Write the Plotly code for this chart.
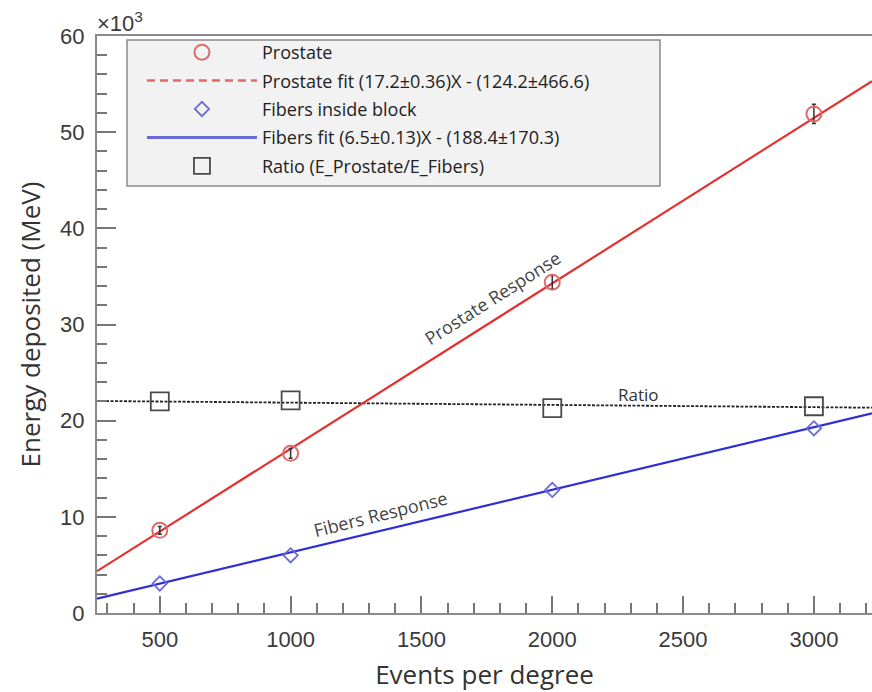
import plotly.graph_objects as go

# ---- data (energies in units of 10^3 MeV) ----
events = [500, 1000, 2000, 3000]
prostate_energy = [8.6, 16.6, 34.4, 51.9]
prostate_err = [0.4, 0.5, 0.7, 1.0]
fibers_energy = [3.07, 6.0, 12.8, 19.2]
ratio_marker_y = [22.0, 22.1, 21.3, 21.5]

prostate_fit = (17.2, -124.2)   # slope (MeV/event), intercept (MeV)
fibers_fit = (6.5, -188.4)
ratio_fit = (22.11, -0.000236)  # drawn guide line (10^3 units)

x_range = [260, 3222]
y_range = [0, 60]

legend_names = [
    "Prostate",
    "Prostate fit (17.2±0.36)X - (124.2±466.6)",
    "Fibers inside block",
    "Fibers fit (6.5±0.13)X - (188.4±170.3)",
    "Ratio (E_Prostate/E_Fibers)",
]

RED = "#e3302f"
RED_LIGHT = "#e06a6a"
BLUE = "#2e2ed6"
BLUE_LIGHT = "#6a6ad8"
GRAY = "#4a4a4a"
TXT_FONT = "Open Sans, Lato"

fit_x = x_range
pro_fit_y = [(prostate_fit[0] * x + prostate_fit[1]) / 1000 for x in fit_x]
fib_fit_y = [(fibers_fit[0] * x + fibers_fit[1]) / 1000 for x in fit_x]
rat_fit_y = [ratio_fit[0] + ratio_fit[1] * x for x in fit_x]

fig = go.Figure()

# plotted lines (not in legend)
fig.add_trace(go.Scatter(x=fit_x, y=rat_fit_y, mode="lines",
                         line=dict(color="#222", width=1.8, dash="3px,1.5px"),
                         showlegend=False, hoverinfo="skip"))
fig.add_trace(go.Scatter(x=fit_x, y=pro_fit_y, mode="lines",
                         line=dict(color=RED, width=2.2),
                         showlegend=False))
fig.add_trace(go.Scatter(x=fit_x, y=fib_fit_y, mode="lines",
                         line=dict(color=BLUE, width=2.2),
                         showlegend=False))

# legend entries + markers
fig.add_trace(go.Scatter(x=events, y=prostate_energy, mode="markers",
                         name=legend_names[0], legendgroup="a",
                         error_y=dict(type="data", array=prostate_err, color="#333",
                                      thickness=1.5, width=2),
                         marker=dict(symbol="circle-open", size=15,
                                     color=RED_LIGHT, line=dict(width=2))))
fig.add_trace(go.Scatter(x=[None], y=[None], mode="lines",
                         name=legend_names[1], legendgroup="b",
                         line=dict(color=RED_LIGHT, width=2.5, dash="8px,5px")))
fig.add_trace(go.Scatter(x=events, y=fibers_energy, mode="markers",
                         name=legend_names[2], legendgroup="c",
                         marker=dict(symbol="diamond-open", size=11,
                                     color=BLUE_LIGHT, line=dict(width=1.8))))
fig.add_trace(go.Scatter(x=[None], y=[None], mode="lines",
                         name=legend_names[3], legendgroup="d",
                         line=dict(color=BLUE_LIGHT, width=3)))
fig.add_trace(go.Scatter(x=events, y=ratio_marker_y, mode="markers",
                         name=legend_names[4], legendgroup="e",
                         marker=dict(symbol="square-open", size=18,
                                     color=GRAY, line=dict(width=1.8))))

tick_font = dict(family="Liberation Sans, Arial", size=22, color="#3a3a3a")

fig.update_layout(
    width=872, height=692,
    margin=dict(l=97, r=0, t=36, b=79),
    paper_bgcolor="white", plot_bgcolor="white",
    showlegend=True,
    legend=dict(x=0.058, y=1.0035, xanchor="left", yanchor="top",
                bgcolor="rgba(0,0,0,0)", borderwidth=0,
                font=dict(family=TXT_FONT, size=18, color="#222"),
                itemwidth=110, tracegroupgap=2, itemsizing="trace"),
    shapes=[dict(type="rect", xref="paper", yref="paper", layer="below",
                 x0=(127 - 97) / 775, x1=(660 - 97) / 775,
                 y0=(613 - 186) / 577, y1=(613 - 40) / 577,
                 line=dict(color="#8a8a8a", width=1.5), fillcolor="#f2f2f2")],
    annotations=[
        dict(text="×10<sup>3</sup>", xref="paper", yref="paper", x=-0.002, y=1.0,
             xanchor="left", yanchor="bottom", showarrow=False, yshift=-2,
             font=dict(family="Liberation Sans, Arial", size=22, color="#3a3a3a")),
        dict(text="Prostate Response", x=1770, y=32.8, showarrow=False,
             textangle=-32.5, font=dict(family=TXT_FONT, size=18, color="#444")),
        dict(text="Fibers Response", x=1342, y=10.3, showarrow=False,
             textangle=-14, font=dict(family=TXT_FONT, size=18, color="#444")),
        dict(text="Ratio", x=2328, y=22.7, showarrow=False,
             font=dict(family=TXT_FONT, size=17, color="#333")),
    ],
)

fig.update_xaxes(range=x_range, showgrid=False, zeroline=False, automargin=False,
                 showline=True, linecolor="#8a8a8a", linewidth=2, mirror=True,
                 tickvals=[500, 1000, 1500, 2000, 2500, 3000],
                 ticks="inside", ticklen=17, tickwidth=1.5, tickcolor="#777",
                 minor=dict(dtick=100, tick0=0, ticks="inside", ticklen=10,
                            tickwidth=1.5, tickcolor="#777"),
                 tickfont=tick_font, ticklabelstandoff=6,
                 title=dict(text="Events per degree",
                            font=dict(family=TXT_FONT, size=26, color="#333"),
                            standoff=14))
fig.update_yaxes(range=y_range, showgrid=False, zeroline=False, automargin=False,
                 showline=True, linecolor="#8a8a8a", linewidth=2, mirror=False,
                 tickvals=[0, 10, 20, 30, 40, 50, 60],
                 ticks="inside", ticklen=19, tickwidth=1.5, tickcolor="#777",
                 minor=dict(dtick=2, tick0=0, ticks="inside", ticklen=10,
                            tickwidth=1.5, tickcolor="#777"),
                 tickfont=tick_font, ticklabelstandoff=6,
                 title=dict(text="Energy deposited (MeV)",
                            font=dict(family=TXT_FONT, size=26, color="#333"),
                            standoff=12))

fig.write_html(
    "out.html",
    config={"displayModeBar": False},
    post_script="document.body.style.margin='0';document.body.style.overflow='hidden';",
)
